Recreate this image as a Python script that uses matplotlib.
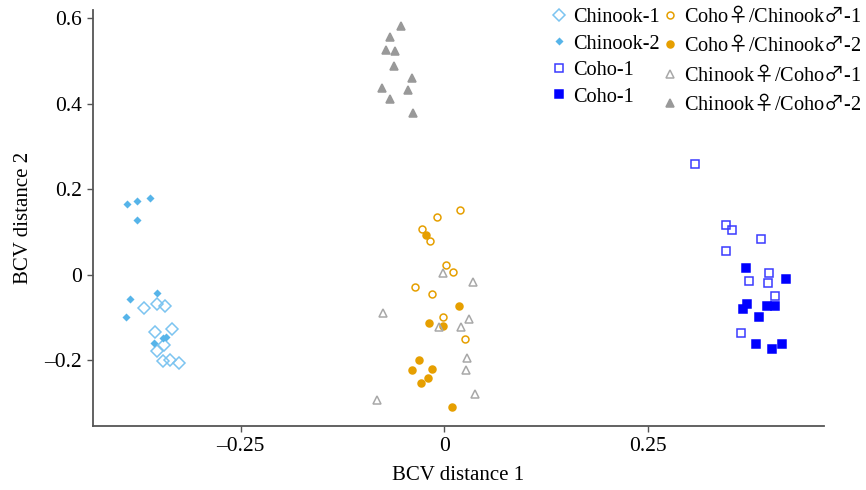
import matplotlib
matplotlib.use("Agg")
import matplotlib.pyplot as plt

plt.rcParams['font.family'] = ['Liberation Serif', 'DejaVu Serif']
# big sex symbols in the legend come from the CJK font via mathtext
plt.rcParams['mathtext.fontset'] = 'custom'
plt.rcParams['mathtext.rm'] = 'Liberation Serif'
plt.rcParams['mathtext.sf'] = 'Noto Sans CJK JP'

# BCV coordinates, one pair of lists per group
chinook1_x = [-0.368, -0.353, -0.343, -0.334, -0.355, -0.344, -0.353, -0.345, -0.336, -0.325]
chinook1_y = [-0.077, -0.069, -0.074, -0.127, -0.134, -0.164, -0.178, -0.202, -0.199, -0.206]

chinook2_x = [-0.389, -0.377, -0.361, -0.377, -0.352, -0.386, -0.390, -0.345, -0.342, -0.356]
chinook2_y = [0.166, 0.173, 0.179, 0.127, -0.043, -0.056, -0.098, -0.147, -0.145, -0.160]

coho1_x = [0.308, 0.346, 0.353, 0.389, 0.346, 0.398, 0.374, 0.397, 0.406, 0.364]
coho1_y = [0.259, 0.117, 0.104, 0.083, 0.055, 0.003, -0.015, -0.019, -0.050, -0.136]

coho2_x = [0.370, 0.419, 0.372, 0.366, 0.396, 0.406, 0.386, 0.383, 0.402, 0.415]
coho2_y = [0.015, -0.009, -0.069, -0.080, -0.073, -0.073, -0.098, -0.163, -0.173, -0.163]

cohoF1_x = [0.019, -0.009, -0.027, -0.018, 0.002, 0.011, -0.036, -0.015, -0.002, 0.026]
cohoF1_y = [0.151, 0.135, 0.108, 0.080, 0.023, 0.006, -0.029, -0.045, -0.099, -0.151]

cohoF2_x = [-0.022, 0.018, -0.019, -0.002, -0.031, -0.040, -0.015, -0.020, -0.028, 0.010]
cohoF2_y = [0.092, -0.074, -0.113, -0.119, -0.199, -0.224, -0.221, -0.242, -0.254, -0.310]

chinF1_x = [-0.001, 0.035, -0.075, 0.030, -0.006, 0.021, 0.028, 0.027, 0.038, -0.083]
chinF1_y = [0.005, -0.016, -0.089, -0.103, -0.123, -0.123, -0.195, -0.223, -0.279, -0.294]

chinF2_x = [-0.053, -0.067, -0.072, -0.060, -0.062, -0.040, -0.076, -0.044, -0.066, -0.038]
chinF2_y = [0.582, 0.557, 0.526, 0.523, 0.488, 0.461, 0.436, 0.433, 0.412, 0.379]

F = '$\\mathsf{\u2640}$'
M = '$\\mathsf{\u2642}$'
labels = ['Chinook-1', 'Chinook-2', 'Coho-1', 'Coho-1',
          'Coho' + F + '/Chinook' + M + '-1', 'Coho' + F + '/Chinook' + M + '-2',
          'Chinook' + F + '/Coho' + M + '-1', 'Chinook' + F + '/Coho' + M + '-2']

xticks = [-0.25, 0, 0.25]
xticklabels = ['\u20130.25', '0', '0.25']
yticks = [-0.2, 0, 0.2, 0.4, 0.6]
yticklabels = ['\u20130.2', '0', '0.2', '0.4', '0.6']

sky = '#56B4E9'
orange = '#E69F00'
grey = '#999999'
blue = '#0000FF'

fig = plt.figure(figsize=(8.66, 4.9), dpi=100)
ax = fig.add_axes([0.1074, 0.1306, 0.8441, 0.8494])

# (x, y, marker, size, face, edge)
groups = [
    (chinook1_x, chinook1_y, 'D', 5.8, 'none', '#7CC4F0'),
    (chinook2_x, chinook2_y, 'D', 3.0, sky, sky),
    (coho1_x, coho1_y, 's', 5.5, 'none', '#3A3AFF'),
    (coho2_x, coho2_y, 's', 5.5, blue, blue),
    (cohoF1_x, cohoF1_y, 'o', 5.0, 'none', orange),
    (cohoF2_x, cohoF2_y, 'o', 5.0, orange, orange),
    (chinF1_x, chinF1_y, '^', 6.2, 'none', '#A8A8A8'),
    (chinF2_x, chinF2_y, '^', 6.2, grey, grey),
]
for (xs, ys, m, ms, fc, ec), lbl in zip(groups, labels):
    ax.plot(xs, ys, linestyle='none', marker=m, markersize=ms,
            markerfacecolor=fc, markeredgecolor=ec, markeredgewidth=1.1,
            label=lbl)

ax.set_xlim(-0.431, 0.466)
ax.set_ylim(-0.354, 0.62)
ax.set_xticks(xticks)
ax.set_xticklabels(xticklabels)
ax.set_yticks(yticks)
ax.set_yticklabels(yticklabels)

for side in ['top', 'right']:
    ax.spines[side].set_visible(False)
for side in ['left', 'bottom']:
    ax.spines[side].set_color('#555555')
    ax.spines[side].set_linewidth(1.3)
ax.tick_params(direction='out', length=4, width=1, color='#555555',
               labelsize=15.5, labelcolor='black', pad=4)

ax.set_xlabel('BCV distance 1', fontsize=15, labelpad=7)
ax.set_ylabel('BCV distance 2', fontsize=15, labelpad=8)

ax.legend(loc='upper right', bbox_to_anchor=(1.0, 0.998),
          bbox_transform=fig.transFigure, ncol=2, frameon=False,
          fontsize=14.6, handlelength=0.7, handletextpad=0.35,
          columnspacing=0.15, labelspacing=0.36, borderaxespad=0.1,
          borderpad=0.1)

fig.savefig('out.png', dpi=100)
